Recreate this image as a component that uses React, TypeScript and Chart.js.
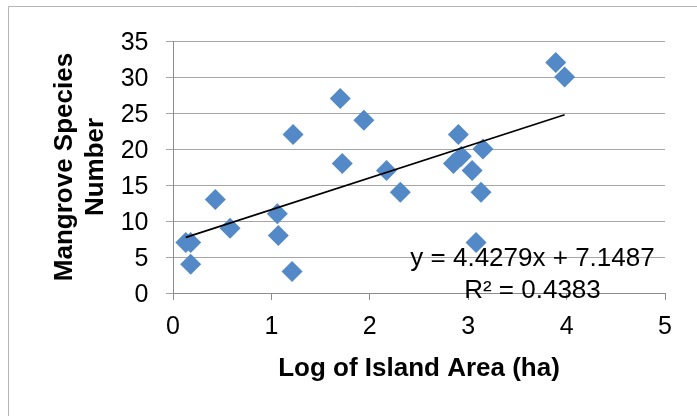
import React, { useEffect, useRef } from "react";
import { Chart, registerables } from "chart.js";

Chart.register(...registerables);

const logArea = [0.13, 0.18, 0.18, 0.43, 0.58, 1.06, 1.07, 1.21, 1.22, 1.70, 1.72, 1.94, 2.17, 2.31, 2.85, 2.90, 2.93, 3.04, 3.08, 3.13, 3.15, 3.89, 3.98];
const speciesCount = [7, 7, 4, 13, 9, 11, 8, 3, 22, 27, 18, 24, 17, 14, 18, 22, 19, 17, 7, 14, 20, 32, 30];
const slope = 4.4279;
const intercept = 7.1487;
const rSquared = 0.4383;
const xTitle = "Log of Island Area (ha)";
const yTitle = ["Mangrove Species", "Number"];

const FONT = "'Liberation Sans', Arial, Helvetica, sans-serif";

export default function App() {
  const ref = useRef<HTMLCanvasElement | null>(null);

  useEffect(() => {
    const canvas = ref.current;
    if (!canvas) return;
    const points = logArea.map((x, i) => ({ x, y: speciesCount[i] }));
    const xMin = Math.min(...logArea);
    const xMax = Math.max(...logArea);
    const trend = [
      { x: xMin, y: slope * xMin + intercept },
      { x: xMax, y: slope * xMax + intercept },
    ];

    const framePlugin = {
      id: "frame",
      beforeDraw(chart: any) {
        const ctx = chart.ctx;
        ctx.save();
        ctx.strokeStyle = "#b4b4b4";
        ctx.lineWidth = 1;
        ctx.beginPath();
        ctx.moveTo(8.5, 416);
        ctx.lineTo(8.5, 6.5);
        ctx.lineTo(697, 6.5);
        ctx.stroke();
        ctx.restore();
      },
      afterDraw(chart: any) {
        const ctx = chart.ctx;
        const a = chart.chartArea;
        ctx.save();
        ctx.fillStyle = "#000";
        ctx.font = `26px ${FONT}`;
        ctx.textAlign = "center";
        ctx.textBaseline = "alphabetic";
        const cx = a.right - 132.5;
        ctx.fillText(`y = ${slope}x + ${intercept}`, cx, a.bottom - 27);
        ctx.fillText(`R² = ${rSquared}`, cx, a.bottom + 4.5);
        ctx.restore();
      },
    };

    const chart = new Chart(canvas, {
      type: "scatter",
      data: {
        datasets: [
          {
            type: "line",
            data: trend,
            borderColor: "#000",
            borderWidth: 1.6,
            pointRadius: 0,
            fill: false,
          } as any,
          {
            data: points,
            pointStyle: "rectRot",
            pointRadius: 10.5,
            backgroundColor: "#5289C6",
            borderColor: "#5289C6",
            borderWidth: 0,
          },
        ],
      },
      options: {
        responsive: false,
        animation: false,
        devicePixelRatio: 1,
        layout: { padding: { left: 0, right: 32, top: 41, bottom: 0 } },
        plugins: {
          legend: { display: false },
          tooltip: { enabled: false },
        },
        scales: {
          x: {
            type: "linear",
            min: 0,
            max: 5,
            ticks: {
              stepSize: 1,
              padding: 12,
              color: "#000",
              font: { family: FONT, size: 25 },
            },
            grid: {
              drawOnChartArea: false,
              drawTicks: true,
              tickLength: 7,
              color: "#8c8c8c",
              tickColor: "#8c8c8c",
            },
            border: { color: "#8c8c8c", width: 1 },
            title: {
              display: true,
              text: xTitle,
              color: "#000",
              font: { family: FONT, size: 26, weight: "bold", lineHeight: "31px" },
              padding: { top: 0, bottom: 32 },
            },
            afterFit(scale: any) {
              scale.height = 123;
            },
          },
          y: {
            type: "linear",
            min: 0,
            max: 35,
            ticks: {
              stepSize: 5,
              padding: 17.5,
              labelOffset: 2,
              color: "#000",
              font: { family: FONT, size: 25 },
            },
            grid: {
              drawTicks: true,
              tickLength: 7,
              color: "#a6a6a6",
              tickColor: "#a6a6a6",
            },
            border: { color: "#8c8c8c", width: 1 },
            title: {
              display: true,
              text: yTitle,
              color: "#000",
              font: { family: FONT, size: 26, weight: "bold", lineHeight: "31px" },
              padding: { top: 49, bottom: 0 },
            },
            afterFit(scale: any) {
              scale.width = 173;
            },
          },
        },
      },
      plugins: [framePlugin],
    });

    return () => chart.destroy();
  }, []);

  return (
    <canvas
      ref={ref}
      width={697}
      height={416}
      style={{ position: "fixed", left: 0, top: 0, width: 697, height: 416, display: "block" }}
    />
  );
}
